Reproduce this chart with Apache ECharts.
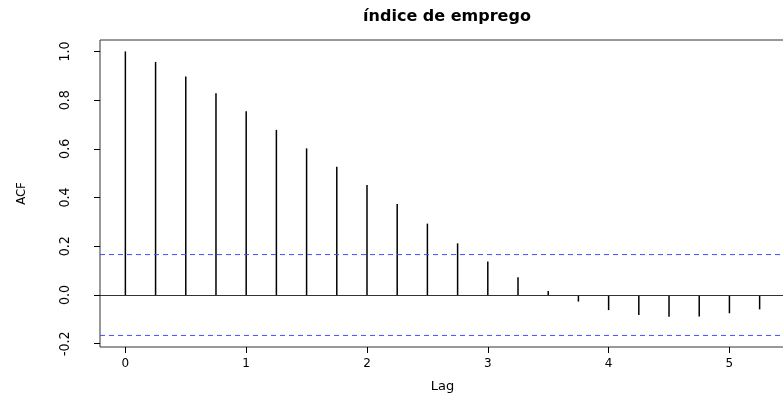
<!DOCTYPE html>
<html>
<head>
<meta charset="utf-8">
<script src="https://cdn.jsdelivr.net/npm/echarts@6/dist/echarts.min.js"></script>
<style>html,body{margin:0;padding:0;background:#fff;}#chart{width:783px;height:394px;}</style>
</head>
<body>
<div id="chart"></div>
<script>
const chartTitle = 'índice de emprego';
const lags = [0, 0.25, 0.5, 0.75, 1, 1.25, 1.5, 1.75, 2, 2.25, 2.5, 2.75, 3, 3.25, 3.5, 3.75, 4, 4.25, 4.5, 4.75, 5, 5.25];
const acfValues = [1.0, 0.957, 0.897, 0.828, 0.754, 0.678, 0.602, 0.527, 0.452, 0.374, 0.293, 0.212, 0.138, 0.073, 0.016, -0.027, -0.062, -0.082, -0.089, -0.088, -0.075, -0.059];
const ciValue = 0.166;
const xTicks = [0, 1, 2, 3, 4, 5];
const yTicks = [-0.2, 0, 0.2, 0.4, 0.6, 0.8, 1.0];
const xRange = [-0.21, 5.46];
const yRange = [-0.2135, 1.047];

const ciStyle = {color: '#4b4bff', width: 1, type: [5, 4]};
const chart = echarts.init(document.getElementById('chart'), null, {renderer: 'canvas'});
chart.setOption({
  animation: false,
  backgroundColor: '#fff',
  title: {
    text: chartTitle,
    left: 442, top: 4, textAlign: 'center',
    textStyle: {fontFamily: 'DejaVu Sans', fontWeight: 'bold', fontSize: 16, color: '#000'}
  },
  grid: {left: 100, top: 40, width: 685, height: 307, show: true, borderColor: '#333', borderWidth: 1, containLabel: false, outerBoundsMode: 'none'},
  xAxis: {
    type: 'value', min: xRange[0], max: xRange[1],
    name: 'Lag', nameLocation: 'middle', nameGap: 33,
    nameTextStyle: {fontFamily: 'DejaVu Sans', fontSize: 13, color: '#000'},
    axisLine: {show: false, onZero: false},
    splitLine: {show: false},
    axisTick: {show: true, length: 6, customValues: xTicks, lineStyle: {color: '#000'}},
    axisLabel: {customValues: xTicks, margin: 11, fontFamily: 'DejaVu Sans', fontSize: 12, color: '#000', formatter: v => String(v)}
  },
  yAxis: {
    type: 'value', min: yRange[0], max: yRange[1],
    name: 'ACF', nameLocation: 'middle', nameGap: 72,
    nameTextStyle: {fontFamily: 'Liberation Sans Narrow, DejaVu Sans Condensed', fontSize: 13, color: '#000'},
    axisLine: {show: false, onZero: false},
    splitLine: {show: false},
    axisTick: {show: true, length: 6, customValues: yTicks, lineStyle: {color: '#000'}},
    axisLabel: {customValues: yTicks, rotate: 90, margin: 28, fontFamily: 'Liberation Sans Narrow, DejaVu Sans Condensed', fontSize: 14, color: '#000', formatter: v => v.toFixed(1)}
  },
  series: [{
    type: 'bar',
    barWidth: 1.5,
    itemStyle: {color: '#000'},
    data: lags.map((l, i) => [l, acfValues[i]]),
    markLine: {
      silent: true, symbol: ['none', 'none'], label: {show: false},
      lineStyle: {color: '#333', width: 1.2, type: 'solid'},
      data: [{yAxis: 0}]
    }
  }, {
    type: 'line', silent: true, symbol: 'none',
    lineStyle: ciStyle,
    data: [[xRange[0], ciValue], [xRange[1], ciValue]]
  }, {
    type: 'line', silent: true, symbol: 'none',
    lineStyle: ciStyle,
    data: [[xRange[0], -ciValue], [xRange[1], -ciValue]]
  }]
});
</script>
</body>
</html>
